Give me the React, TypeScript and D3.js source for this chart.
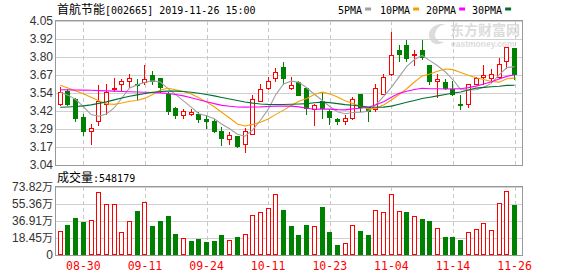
import React from 'react';
import * as d3 from 'd3';

const W = 578;
const H = 276;

// Trading days shown on the chart
const tradeDates = [
  '08-27', '08-28', '08-29', '08-30', '09-02', '09-03', '09-04', '09-05', '09-06', '09-09',
  '09-10', '09-11', '09-12', '09-16', '09-17', '09-18', '09-19', '09-20', '09-23', '09-24',
  '09-25', '09-26', '09-27', '09-30', '10-08', '10-09', '10-10', '10-11', '10-14', '10-15',
  '10-16', '10-17', '10-18', '10-21', '10-22', '10-23', '10-24', '10-25', '10-28', '10-29',
  '10-30', '10-31', '11-01', '11-04', '11-05', '11-06', '11-07', '11-08', '11-11', '11-12',
  '11-13', '11-14', '11-15', '11-18', '11-19', '11-20', '11-21', '11-22', '11-25', '11-26',
];
const xTickDates = ['08-30', '09-11', '09-24', '10-11', '10-23', '11-04', '11-14', '11-26'];

const opens = [
  3.47, 3.56, 3.50, 3.38, 3.28, 3.35, 3.47, 3.57, 3.61, 3.63,
  3.61, 3.62, 3.67, 3.65, 3.54, 3.44, 3.39, 3.40, 3.40, 3.36,
  3.35, 3.28, 3.22, 3.24, 3.19, 3.26, 3.49, 3.58, 3.65, 3.73,
  3.58, 3.62, 3.58, 3.43, 3.49, 3.42, 3.36, 3.35, 3.37, 3.54,
  3.45, 3.43, 3.54, 3.68, 3.85, 3.88, 3.81, 3.85, 3.74, 3.63,
  3.62, 3.57, 3.47, 3.47, 3.61, 3.66, 3.65, 3.66, 3.77, 3.86,
];
const highs = [
  3.59, 3.57, 3.51, 3.40, 3.33, 3.60, 3.61, 3.65, 3.64, 3.68,
  3.64, 3.74, 3.70, 3.65, 3.55, 3.45, 3.43, 3.43, 3.41, 3.39,
  3.36, 3.31, 3.27, 3.245, 3.30, 3.53, 3.61, 3.66, 3.72, 3.76,
  3.66, 3.63, 3.59, 3.47, 3.55, 3.43, 3.37, 3.39, 3.52, 3.54,
  3.45, 3.61, 3.68, 3.97, 3.88, 3.92, 3.85, 3.92, 3.74, 3.68,
  3.64, 3.63, 3.53, 3.61, 3.66, 3.74, 3.71, 3.79, 3.87, 3.86,
];
const lows = [
  3.46, 3.46, 3.35, 3.25, 3.19, 3.32, 3.40, 3.56, 3.56, 3.59,
  3.50, 3.61, 3.61, 3.55, 3.40, 3.37, 3.37, 3.39, 3.34, 3.30,
  3.27, 3.18, 3.19, 3.165, 3.13, 3.26, 3.49, 3.57, 3.63, 3.61,
  3.57, 3.53, 3.40, 3.32, 3.37, 3.33, 3.33, 3.33, 3.36, 3.42,
  3.35, 3.42, 3.54, 3.67, 3.77, 3.77, 3.74, 3.78, 3.61, 3.52,
  3.57, 3.53, 3.43, 3.45, 3.61, 3.61, 3.62, 3.65, 3.72, 3.64,
];
const closes = [
  3.55, 3.47, 3.37, 3.28, 3.30, 3.49, 3.55, 3.58, 3.63, 3.65,
  3.60, 3.64, 3.63, 3.59, 3.42, 3.39, 3.42, 3.41, 3.36, 3.35,
  3.28, 3.23, 3.25, 3.17, 3.28, 3.50, 3.57, 3.63, 3.69, 3.65,
  3.60, 3.53, 3.44, 3.46, 3.44, 3.38, 3.35, 3.37, 3.50, 3.45,
  3.42, 3.58, 3.66, 3.81, 3.82, 3.79, 3.82, 3.80, 3.63, 3.64,
  3.58, 3.54, 3.46, 3.61, 3.65, 3.67, 3.68, 3.75, 3.87, 3.68,
];
// Volume in 万 (10k lots)
const volumes = [
  26.1, 32.6, 40.2, 35.8, 37.6, 68.0, 55.4, 55.4, 25.0, 36.6,
  47.8, 57.2, 31.5, 36.9, 42.3, 22.8, 18.1, 15.2, 17.4, 14.1,
  15.2, 21.7, 16.3, 19.5, 22.4, 43.1, 46.3, 50.7, 65.9, 48.9,
  31.5, 21.7, 32.6, 31.1, 52.1, 25.0, 10.9, 12.7, 32.2, 26.1,
  21.7, 48.5, 46.3, 65.9, 47.4, 46.3, 42.0, 39.1, 36.9, 28.9,
  19.5, 19.5, 16.3, 25.0, 27.9, 34.4, 26.8, 56.1, 69.1, 54.8179,
];

// Moving-average values before each window is filled by the visible closes
const ma5Head = [3.55, 3.53, 3.50, 3.45];
const ma10Head = [3.60, 3.58, 3.56, 3.54, 3.515, 3.49, 3.47, 3.465, 3.475];
const ma20Head = [
  3.568, 3.567, 3.566, 3.565, 3.564, 3.562, 3.56, 3.558, 3.556, 3.554,
  3.552, 3.55, 3.548, 3.546, 3.542, 3.535, 3.525, 3.512, 3.498,
];
const ma30Head = [
  3.445, 3.447, 3.45, 3.455, 3.462, 3.472, 3.483, 3.497, 3.51, 3.522,
  3.532, 3.542, 3.55, 3.555, 3.558, 3.558, 3.555, 3.55, 3.543, 3.535,
  3.525, 3.514, 3.503, 3.492, 3.482, 3.474, 3.468, 3.465, 3.464,
];

const priceTicks = ['4.05', '3.92', '3.80', '3.67', '3.54', '3.42', '3.29', '3.17', '3.04'];
const volumeTicks = ['73.82万', '55.36万', '36.91万', '18.45万', '0'];

const maSeries = [
  { name: '5PMA', period: 5, head: ma5Head, color: '#a0a0a0' },
  { name: '10PMA', period: 10, head: ma10Head, color: '#f5a000' },
  { name: '20PMA', period: 20, head: ma20Head, color: '#ff00ff' },
  { name: '30PMA', period: 30, head: ma30Head, color: '#006f33' },
];

const RED = '#ff0000';
const GREEN = '#008000';
const CJK = "'Noto Sans CJK SC', sans-serif";
const MONO = "'DejaVu Sans Mono', monospace";
const SANS = "'Liberation Sans', Arial, sans-serif";

const movingAverage = (period: number, head: number[]) =>
  closes.map((_, i) =>
    i < period - 1 ? head[i] : d3.mean(closes.slice(i - period + 1, i + 1)) as number
  );

const crisp = (v: number) => Math.round(v) + 0.5;

export default function App() {
  const left = 56;
  const right = 522;
  const pTop = 21;
  const pBottom = 165;
  const vTop = 187;
  const vBottom = 255;

  const x = d3
    .scaleBand<number>()
    .domain(d3.range(tradeDates.length))
    .range([left + 0.4, left + 0.4 + 7.7 * tradeDates.length]);
  const xc = (i: number) => (x(i) as number) + x.bandwidth() / 2;

  const priceMin = +priceTicks[priceTicks.length - 1];
  const priceMax = +priceTicks[0];
  const y = d3.scaleLinear().domain([priceMin, priceMax]).range([pBottom, pTop]);
  const volMax = parseFloat(volumeTicks[0]);
  const yv = d3.scaleLinear().domain([0, volMax]).range([vBottom, vTop]);

  const priceTickVals = priceTicks.map(
    (_, k) => priceMax - ((priceMax - priceMin) * k) / (priceTicks.length - 1)
  );
  const volTickVals = volumeTicks.map((_, k) => volMax - (volMax * k) / (volumeTicks.length - 1));

  const tickIdx = xTickDates.map((d) => tradeDates.indexOf(d));

  const line = d3
    .line<number>()
    .x((_, i) => xc(i))
    .y((d) => y(d));

  const candleUp = (i: number) =>
    closes[i] > opens[i] || (closes[i] === opens[i] && i > 0 && closes[i] >= closes[i - 1]);
  const volUp = (i: number) => (i === 0 ? closes[0] >= opens[0] : closes[i] >= closes[i - 1]);

  const legendX = [338, 380, 426, 472];

  return (
    <svg width={W} height={H} style={{ display: 'block', position: 'absolute', left: 0, top: 0 }}>
      <rect x={0} y={0} width={W} height={H} fill="#fff" />

      {/* title */}
      <text x={57} y={14} fill="#000">
        <tspan fontFamily={CJK} fontSize={12}>首航节能</tspan>
        <tspan fontFamily={MONO} fontSize={10}>[002665] 2019-11-26 15:00</tspan>
      </text>

      {/* legend */}
      {maSeries.map((s, k) => (
        <g key={s.name}>
          <text x={legendX[k]} y={14} fontFamily={MONO} fontSize={10} fill="#000">
            {s.name}
          </text>
          <rect x={legendX[k] + s.name.length * 6.02 + 3} y={7.5} width={6} height={3} fill={s.color} />
        </g>
      ))}

      {/* watermark */}
      <g fill="#dcdcdc" fontWeight="bold">
        <path
          d="M 440 24 C 430 26, 426 34, 431 41 C 434 45, 440 45, 444 42 C 437 42, 433 37, 436 31 C 438 27, 441 25, 446 24 Z"
        />
        <text x={450} y={35} fontFamily={CJK} fontSize={14}>东方财富网</text>
        <text x={451} y={46.5} fontFamily={SANS} fontSize={8.5}>eastmoney.com</text>
      </g>

      {/* price grid */}
      {priceTickVals.map((v, k) => (
        <line key={'pg' + k} x1={left} x2={right} y1={crisp(y(v))} y2={crisp(y(v))} stroke="#d0d0d0" />
      ))}
      {tickIdx.map((i) => (
        <line
          key={'pv' + i}
          x1={crisp(xc(i))}
          x2={crisp(xc(i))}
          y1={pTop}
          y2={pBottom}
          stroke="#c8c8c8"
          strokeDasharray="4,3"
        />
      ))}
      {priceTicks.map((t, k) => (
        <text
          key={'pt' + k}
          x={53}
          y={y(priceTickVals[k])}
          dy="0.35em"
          textAnchor="end"
          fontFamily={SANS}
          fontSize={12}
          fill="#333"
        >
          {t}
        </text>
      ))}

      {/* candles */}
      {closes.map((c, i) => {
        const col = Math.floor(xc(i));
        const up = candleUp(i);
        const color = up ? RED : GREEN;
        const top = Math.round(y(Math.max(opens[i], c)));
        const bot = Math.round(y(Math.min(opens[i], c)));
        return (
          <g key={'c' + i}>
            <line
              x1={col + 0.5}
              x2={col + 0.5}
              y1={Math.round(y(highs[i]))}
              y2={Math.round(y(lows[i])) + 1}
              stroke={color}
            />
            {up ? (
              <rect
                x={col - 1.5}
                y={top + 0.5}
                width={4}
                height={Math.max(bot - top, 1)}
                fill="#fff"
                stroke={color}
              />
            ) : (
              <rect x={col - 2} y={top} width={5} height={Math.max(bot - top, 1) + 1} fill={color} />
            )}
          </g>
        );
      })}

      {/* moving averages */}
      {maSeries.map((s) => (
        <path
          key={'ma' + s.name}
          d={line(movingAverage(s.period, s.head)) as string}
          fill="none"
          stroke={s.color}
          strokeWidth={1.1}
        />
      ))}

      <rect x={left - 0.5} y={pTop - 0.5} width={right - left + 1} height={pBottom - pTop + 1} fill="none" stroke="#999" />

      {/* volume panel */}
      <text x={57} y={182} fill="#000">
        <tspan fontFamily={CJK} fontSize={12}>成交量</tspan>
        <tspan fontFamily={MONO} fontSize={10}>:{Math.round(volumes[volumes.length - 1] * 10000)}</tspan>
      </text>
      {volTickVals.map((v, k) => (
        <line key={'vg' + k} x1={left} x2={right} y1={crisp(yv(v))} y2={crisp(yv(v))} stroke="#d0d0d0" />
      ))}
      {tickIdx.map((i) => (
        <line
          key={'vv' + i}
          x1={crisp(xc(i))}
          x2={crisp(xc(i))}
          y1={vTop}
          y2={vBottom}
          stroke="#c8c8c8"
          strokeDasharray="4,3"
        />
      ))}
      {volumeTicks.map((t, k) => (
        <text
          key={'vt' + k}
          x={53}
          y={yv(volTickVals[k])}
          dy="0.35em"
          textAnchor="end"
          fontFamily={SANS}
          fontSize={12}
          fill="#333"
        >
          {t.replace('万', '')}
          {t.includes('万') ? <tspan fontFamily={CJK} fontSize={11}>万</tspan> : null}
        </text>
      ))}
      {volumes.map((v, i) => {
        const col = Math.floor(xc(i));
        const up = volUp(i);
        const top = Math.round(yv(v));
        return up ? (
          <rect
            key={'v' + i}
            x={col - 1.5}
            y={top + 0.5}
            width={4}
            height={vBottom - top - 1}
            fill="#fff"
            stroke={RED}
          />
        ) : (
          <rect key={'v' + i} x={col - 2} y={top} width={5} height={vBottom - top} fill={GREEN} />
        );
      })}
      <rect x={left - 0.5} y={vTop - 0.5} width={right - left + 1} height={vBottom - vTop + 1} fill="none" stroke="#999" />

      {/* date axis */}
      {tickIdx.map((i, k) => (
        <text
          key={'xt' + k}
          x={xc(i)}
          y={270}
          textAnchor="middle"
          fontFamily={MONO}
          fontSize={11.5}
          fill={RED}
        >
          {xTickDates[k]}
        </text>
      ))}
    </svg>
  );
}
